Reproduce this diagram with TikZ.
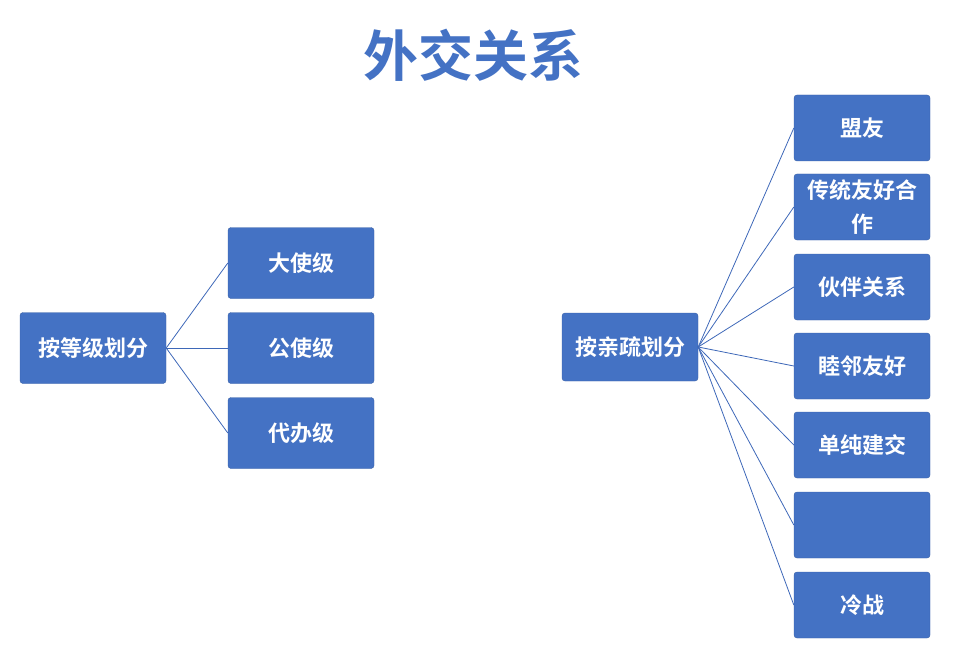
\documentclass[tikz,border=0pt]{standalone}
\usepackage{fontspec}
\newfontfamily\cjk{Noto Sans CJK SC}[BoldFont={Noto Sans CJK SC Bold}]
\definecolor{bx}{HTML}{4472C4}
\definecolor{ln}{HTML}{3E68B8}
\begin{document}
\begin{tikzpicture}[x=1pt,y=-1pt,
 box/.style={fill=bx,draw=bx!85!black,rounded corners=3pt,text=white,font=\cjk\bfseries\fontsize{22}{34}\selectfont,align=center,inner sep=2pt},
 con/.style={draw=ln,line width=0.8pt}]
\useasboundingbox (0,0) rectangle (960,655);
\node[text=bx,font=\cjk\bfseries\fontsize{55}{60}\selectfont] (t) at (473,55) {外交关系};
\node[box,minimum width=146,minimum height=71] (L) at (93,348) {按等级划分};
\foreach \n/\y/\s in {a/263/大使级,b/348/公使级,c/433/代办级}
  \node[box,minimum width=146,minimum height=71] (\n) at (301,\y) {\s};
\foreach \n in {a,b,c} \draw[con] (L.east) -- (\n.west);
\node[box,minimum width=136,minimum height=68] (R) at (630,347) {按亲疏划分};
\foreach \n/\y/\s in {r1/128/盟友,r2/207/{传统友好合\\作},r3/287/伙伴关系,r4/366/睦邻友好,r5/445/单纯建交,r6/525/{},r7/605/冷战}
  {\node[box,minimum width=136,minimum height=66,text width=128] (\n) at (862,\y) {\s};
   \draw[con] (R.east) -- (\n.west);}
\end{tikzpicture}
\end{document}
